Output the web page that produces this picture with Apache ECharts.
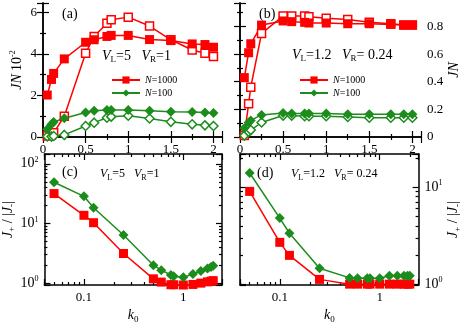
<!DOCTYPE html>
<html>
<head>
<meta charset="utf-8">
<script src="https://cdn.jsdelivr.net/npm/echarts@6/dist/echarts.min.js"></script>
<style>
  html, body { margin: 0; padding: 0; background: #fff; }
  #main { width: 463px; height: 325px; }
</style>
</head>
<body>
<div id="main"></div>
<script>
// k0 values shared by all panels
var k0 = [0.05, 0.1, 0.125, 0.25, 0.5, 0.6, 0.75, 0.8, 1, 1.25, 1.5, 1.75, 1.9, 2];

// (a) V_L=5 V_R=1, JN x 10^-2
var jnA1000 = [2.02, 2.77, 3.06, 3.76, 4.56, 4.68, 4.84, 4.89, 4.89, 4.69, 4.64, 4.48, 4.45, 4.32];
var jnA1000open = [0.05, 0.1, 0.2, 1.0, 4.03, 4.84, 5.48, 5.64, 5.77, 5.34, 4.68, 4.19, 4.03, 3.87];
var jnA100 = [0.37, 0.61, 0.72, 0.9, 1.18, 1.26, 1.3, 1.3, 1.3, 1.26, 1.22, 1.2, 1.18, 1.15];
var jnA100open = [0.03, 0.02, 0.05, 0.1, 0.53, 0.69, 0.93, 0.98, 1.02, 0.89, 0.73, 0.61, 0.56, 0.53];

// (b) V_L=1.2 V_R=0.24, JN
var jnB1000 = [0.43, 0.61, 0.675, 0.81, 0.84, 0.835, 0.83, 0.825, 0.825, 0.82, 0.82, 0.815, 0.81, 0.81];
var jnB1000open = [0.01, 0.24, 0.36, 0.75, 0.875, 0.875, 0.875, 0.87, 0.86, 0.85, 0.83, 0.82, 0.81, 0.81];
var jnB100 = [0.064, 0.105, 0.12, 0.16, 0.174, 0.17, 0.17, 0.17, 0.17, 0.165, 0.165, 0.165, 0.165, 0.165];
var jnB100open = [0.01, 0.037, 0.05, 0.105, 0.155, 0.155, 0.15, 0.15, 0.15, 0.145, 0.14, 0.14, 0.14, 0.14];

// (c), (d) J+ / |J-|
var ratioC1000 = [31.7, 13.7, 10.3, 3.14, 1.18, 1.04, 0.94, 0.94, 0.93, 0.95, 1.0, 1.05, 1.08, 1.1];
var ratioC100 = [49, 28.5, 18.3, 6.4, 2.0, 1.65, 1.37, 1.3, 1.25, 1.42, 1.6, 1.76, 1.87, 1.95];
var ratioD1000 = [9.05, 2.7, 1.98, 1.12, 1.0, 1.0, 1.0, 1.0, 1.0, 1.0, 1.0, 1.0, 1.0, 1.0];
var ratioD100 = [14, 4.8, 3.35, 1.46, 1.16, 1.15, 1.15, 1.15, 1.15, 1.22, 1.22, 1.22, 1.22, 1.22];

var linTicksX = ['0', '0.5', '1', '1.5', '2'];

var RED = '#ff0000';
var GREEN = '#1c8c1c';
var FONT = 'Liberation Serif';

var myChart = echarts.init(document.getElementById('main'));

function pairs(xs, ys) {
  return xs.map(function (x, i) { return [x, ys[i]]; });
}

var richSup = {
  sup: { fontFamily: FONT, fontSize: 8, verticalAlign: 'top', padding: [0, 0, 8, 0], color: '#000' },
  i: { fontFamily: FONT, fontStyle: 'italic', fontSize: 14, color: '#000' },
  n: { fontFamily: FONT, fontSize: 14, color: '#000' },
  sub: { fontFamily: FONT, fontSize: 9, padding: [8, 0, 0, 0], color: '#000' }
};

var axisLine = { show: true, lineStyle: { color: '#000', width: 1.5 } };
var tick = { show: true, inside: true, length: 6, lineStyle: { color: '#000', width: 1.2 } };
var minor = { show: true, length: 3, splitNumber: 2, lineStyle: { color: '#000', width: 1.2 } };
var lbl = { fontFamily: FONT, fontSize: 13, color: '#000' };

function linX(grid, show) {
  return {
    type: 'value', gridIndex: grid, min: 0, max: 2.1, interval: 0.5,
    position: show ? 'bottom' : 'top',
    axisLine: axisLine, axisTick: tick, minorTick: minor, splitLine: { show: false },
    axisLabel: show ? Object.assign({ showMaxLabel: false, margin: 6 }, lbl) : { show: false }
  };
}
function logX(grid, show) {
  return {
    type: 'log', gridIndex: grid, min: 0.04, max: 2.45,
    position: show ? 'bottom' : 'top',
    axisLine: axisLine, axisTick: tick,
    minorTick: { show: true, length: 3, splitNumber: 9, lineStyle: { color: '#000', width: 1.2 } },
    splitLine: { show: false },
    name: show ? '{i|k}{sub|0}' : '', nameLocation: 'middle', nameGap: 22,
    nameTextStyle: { rich: richSup },
    axisLabel: show ? Object.assign({ showMinLabel: false, showMaxLabel: false, margin: 6,
      formatter: function (v) { return String(+v.toPrecision(3)); } }, lbl) : { show: false }
  };
}
function logFmt(v) {
  var e = Math.round(Math.log10(v));
  if (Math.abs(Math.log10(v) - e) > 0.01) return '';
  return '{n|10}{sup|' + e + '}';
}

var option = {
  animation: false,
  backgroundColor: '#fff',
  grid: [
    { left: 43, top: 3, width: 179, height: 134 },
    { left: 240, top: 3, width: 181, height: 134 },
    { left: 43, top: 154, width: 179, height: 134 },
    { left: 240, top: 154, width: 181, height: 133 }
  ],
  xAxis: [
    linX(0, true), linX(1, true), logX(2, true), logX(3, true),
    linX(0, false), linX(1, false), logX(2, false), logX(3, false)
  ],
  yAxis: [
    { type: 'value', gridIndex: 0, min: 0, max: 6.45, interval: 2, position: 'left',
      axisLine: axisLine, axisTick: tick, minorTick: minor, splitLine: { show: false },
      axisLabel: Object.assign({ showMaxLabel: false, margin: 6 }, lbl),
      name: '{i|JN} {n|10}{sup|-2}', nameLocation: 'middle', nameGap: 18, nameRotate: 90,
      nameTextStyle: { rich: richSup } },
    { type: 'value', gridIndex: 1, min: 0, max: 0.97, interval: 0.2, position: 'right',
      axisLine: axisLine, axisTick: tick, minorTick: minor, splitLine: { show: false },
      axisLabel: Object.assign({ showMaxLabel: false, margin: 6 }, lbl),
      name: '{i|JN}', nameLocation: 'middle', nameGap: 20, nameRotate: 90,
      nameTextStyle: { rich: richSup } },
    { type: 'log', gridIndex: 2, min: 0.93, max: 146, position: 'left',
      axisLine: axisLine, axisTick: tick,
      minorTick: { show: true, length: 3, splitNumber: 9, lineStyle: { color: '#000', width: 1.2 } },
      splitLine: { show: false },
      axisLabel: Object.assign({ showMinLabel: false, showMaxLabel: false, margin: 6, formatter: logFmt, rich: richSup }, lbl),
      name: '{i|J}{sub|+} {n|/ |}{i|J}{sub|-}{n||}', nameLocation: 'middle', nameGap: 24, nameRotate: 90,
      nameTextStyle: { rich: richSup } },
    { type: 'log', gridIndex: 3, min: 0.98, max: 22, position: 'right',
      axisLine: axisLine, axisTick: tick,
      minorTick: { show: true, length: 3, splitNumber: 9, lineStyle: { color: '#000', width: 1.2 } },
      splitLine: { show: false },
      axisLabel: Object.assign({ showMinLabel: false, showMaxLabel: false, margin: 6, formatter: logFmt, rich: richSup }, lbl),
      name: '{i|J}{sub|+} {n|/ |}{i|J}{sub|-}{n||}', nameLocation: 'middle', nameGap: 26, nameRotate: 90,
      nameTextStyle: { rich: richSup } },
    { type: 'value', gridIndex: 0, min: 0, max: 6.45, interval: 2, position: 'right',
      axisLine: axisLine, axisTick: tick, minorTick: minor, splitLine: { show: false }, axisLabel: { show: false } },
    { type: 'value', gridIndex: 1, min: 0, max: 0.97, interval: 0.2, position: 'left',
      axisLine: axisLine, axisTick: tick, minorTick: minor, splitLine: { show: false }, axisLabel: { show: false } },
    { type: 'log', gridIndex: 2, min: 0.93, max: 146, position: 'right',
      axisLine: axisLine, axisTick: tick,
      minorTick: { show: true, length: 3, splitNumber: 9, lineStyle: { color: '#000', width: 1.2 } },
      splitLine: { show: false }, axisLabel: { show: false } },
    { type: 'log', gridIndex: 3, min: 0.98, max: 22, position: 'left',
      axisLine: axisLine, axisTick: tick,
      minorTick: { show: true, length: 3, splitNumber: 9, lineStyle: { color: '#000', width: 1.2 } },
      splitLine: { show: false }, axisLabel: { show: false } }
  ],
  legend: [
    { left: 106, top: 70, orient: 'vertical', itemWidth: 28, itemHeight: 9, itemGap: 3,
      data: ['a1000', 'a100'],
      formatter: function (n) { return n === 'a1000' ? '{i|N}=1000' : '{i|N}=100'; },
      textStyle: { fontFamily: FONT, fontSize: 10, color: '#000',
        rich: { i: { fontFamily: FONT, fontStyle: 'italic', fontSize: 10 } } } },
    { left: 294, top: 70, orient: 'vertical', itemWidth: 28, itemHeight: 9, itemGap: 3,
      data: ['b1000', 'b100'],
      formatter: function (n) { return n === 'b1000' ? '{i|N}=1000' : '{i|N}=100'; },
      textStyle: { fontFamily: FONT, fontSize: 10, color: '#000',
        rich: { i: { fontFamily: FONT, fontStyle: 'italic', fontSize: 10 } } } }
  ],
  graphic: [
    { type: 'text', left: 62, top: 7, style: { text: '(a)', font: '14px ' + FONT, fill: '#000' } },
    { type: 'text', left: 259, top: 7, style: { text: '(b)', font: '14px ' + FONT, fill: '#000' } },
    { type: 'text', left: 62, top: 165, style: { text: '(c)', font: '14px ' + FONT, fill: '#000' } },
    { type: 'text', left: 257, top: 166, style: { text: '(d)', font: '14px ' + FONT, fill: '#000' } },
    { type: 'text', left: 102, top: 49, style: { text: '{i|V}{sub|L}{n|=5   }{i|V}{sub|R}{n|=1}', rich: richSup } },
    { type: 'text', left: 292, top: 48, style: { text: '{i|V}{sub|L}{n|=1.2   }{i|V}{sub|R}{n|= 0.24}', rich: richSup } },
    { type: 'text', left: 100, top: 168, style: { text: '{i|V}{sub|L}{n|=5   }{i|V}{sub|R}{n|=1}',
      rich: { i: { fontFamily: FONT, fontStyle: 'italic', fontSize: 12 }, n: { fontFamily: FONT, fontSize: 12 },
              sub: { fontFamily: FONT, fontSize: 8, padding: [7, 0, 0, 0] } } } },
    { type: 'text', left: 291, top: 168, style: { text: '{i|V}{sub|L}{n|=1.2   }{i|V}{sub|R}{n|= 0.24}',
      rich: { i: { fontFamily: FONT, fontStyle: 'italic', fontSize: 12 }, n: { fontFamily: FONT, fontSize: 12 },
              sub: { fontFamily: FONT, fontSize: 8, padding: [7, 0, 0, 0] } } } }
  ],
  series: []
};

function addLine(name, xi, yi, xs, ys, color, shape, open, size) {
  option.series.push({
    name: name, type: 'line', xAxisIndex: xi, yAxisIndex: yi,
    data: pairs(xs, ys), symbol: shape, symbolSize: size, showSymbol: true,
    clip: false,
    lineStyle: { color: color, width: 1.5 },
    itemStyle: open ? { color: '#fff', borderColor: color, borderWidth: 1.5 }
                    : { color: color, borderColor: color, borderWidth: 0 }
  });
}

addLine('a1000open', 0, 0, k0, jnA1000open, RED, 'rect', true, 8);
addLine('a1000', 0, 0, k0, jnA1000, RED, 'rect', false, 9);
addLine('a100open', 0, 0, k0, jnA100open, GREEN, 'diamond', true, 9);
addLine('a100', 0, 0, k0, jnA100, GREEN, 'diamond', false, 10);

addLine('b1000open', 1, 1, k0, jnB1000open, RED, 'rect', true, 8);
addLine('b1000', 1, 1, k0, jnB1000, RED, 'rect', false, 9);
addLine('b100open', 1, 1, k0, jnB100open, GREEN, 'diamond', true, 9);
addLine('b100', 1, 1, k0, jnB100, GREEN, 'diamond', false, 10);

addLine('c1000', 2, 2, k0, ratioC1000, RED, 'rect', false, 9);
addLine('c100', 2, 2, k0, ratioC100, GREEN, 'diamond', false, 10);
addLine('d1000', 3, 3, k0, ratioD1000, RED, 'rect', false, 9);
addLine('d100', 3, 3, k0, ratioD100, GREEN, 'diamond', false, 10);

myChart.setOption(option);
</script>
</body>
</html>
